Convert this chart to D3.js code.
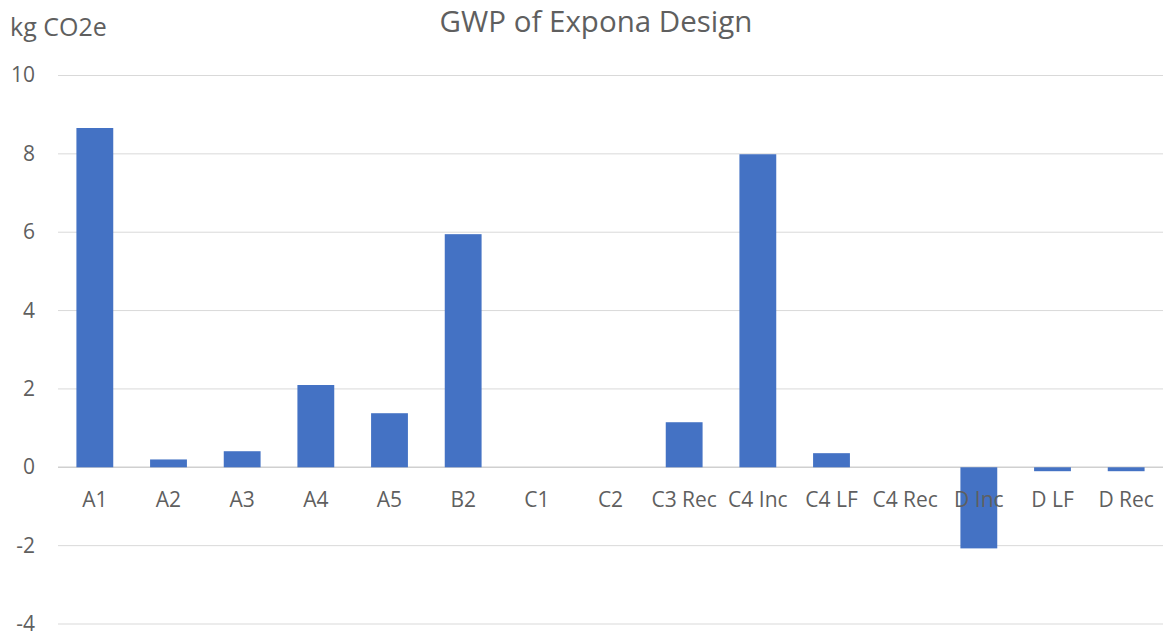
<!DOCTYPE html>
<html>
<head>
<meta charset="utf-8">
<script src="https://cdn.jsdelivr.net/npm/d3@7"></script>
<style>
  body { margin: 0; background: #fff; }
  text { font-family: "Open Sans", sans-serif; fill: #5f5f5f; }
</style>
</head>
<body>
<script>
// chart data
const categories = ["A1", "A2", "A3", "A4", "A5", "B2", "C1", "C2", "C3 Rec", "C4 Inc", "C4 LF", "C4 Rec", "D Inc", "D LF", "D Rec"];
const values = [8.66, 0.2, 0.41, 2.1, 1.38, 5.95, 0, 0, 1.15, 7.99, 0.36, 0, -2.07, -0.1, -0.1];
const yTicks = [-4, -2, 0, 2, 4, 6, 8, 10];

const canvWidth = 1165, canvHeight = 632;
const svg = d3.select("body").append("svg")
    .attr("width", canvWidth)
    .attr("height", canvHeight);

const margin = {top: 75.5, right: 2, bottom: 8, left: 58};
const width = canvWidth - margin.left - margin.right;
const height = canvHeight - margin.top - margin.bottom;

// title + unit label
svg.append("text")
    .attr("x", 596).attr("y", 32)
    .attr("font-size", "29.5px")
    .style("text-anchor", "middle")
    .text("GWP of Expona Design");

svg.append("text")
    .attr("x", 10).attr("y", 36)
    .attr("font-size", "25px")
    .text("kg CO2e");

const g = svg.append("g")
    .attr("transform", "translate(" + margin.left + "," + margin.top + ")");

const xScale = d3.scaleBand().domain(categories).range([0, width]).paddingInner(0.5).paddingOuter(0.25);
const yScale = d3.scaleLinear().domain([-4, 10]).range([height, 0]);

// gridlines
g.selectAll("line.grid")
    .data(yTicks)
    .enter().append("line")
    .attr("class", "grid")
    .attr("x1", 0).attr("x2", width)
    .attr("y1", d => yScale(d)).attr("y2", d => yScale(d))
    .attr("stroke", d => d === 0 ? "#d0d0d0" : "#d9d9d9")
    .attr("stroke-width", d => d === 0 ? 1.5 : 1);

// y tick labels
g.selectAll("text.ytick")
    .data(yTicks)
    .enter().append("text")
    .attr("class", "ytick")
    .attr("x", -23)
    .attr("y", d => yScale(d))
    .attr("dy", "0.33em")
    .attr("font-size", "21px")
    .style("text-anchor", "end")
    .text(d => d);

// bars
g.selectAll("rect")
    .data(values)
    .enter().append("rect")
    .attr("x", (d, i) => xScale(categories[i]))
    .attr("width", xScale.bandwidth())
    .attr("y", d => yScale(Math.max(0, d)))
    .attr("height", d => Math.abs(yScale(d) - yScale(0)))
    .style("fill", "#4472C4");

// category labels
g.selectAll("text.xlab")
    .data(categories)
    .enter().append("text")
    .attr("class", "xlab")
    .attr("x", d => xScale(d) + xScale.bandwidth() / 2)
    .attr("y", yScale(0) + 40)
    .attr("font-size", "21px")
    .style("text-anchor", "middle")
    .text(d => d);
</script>
</body>
</html>
